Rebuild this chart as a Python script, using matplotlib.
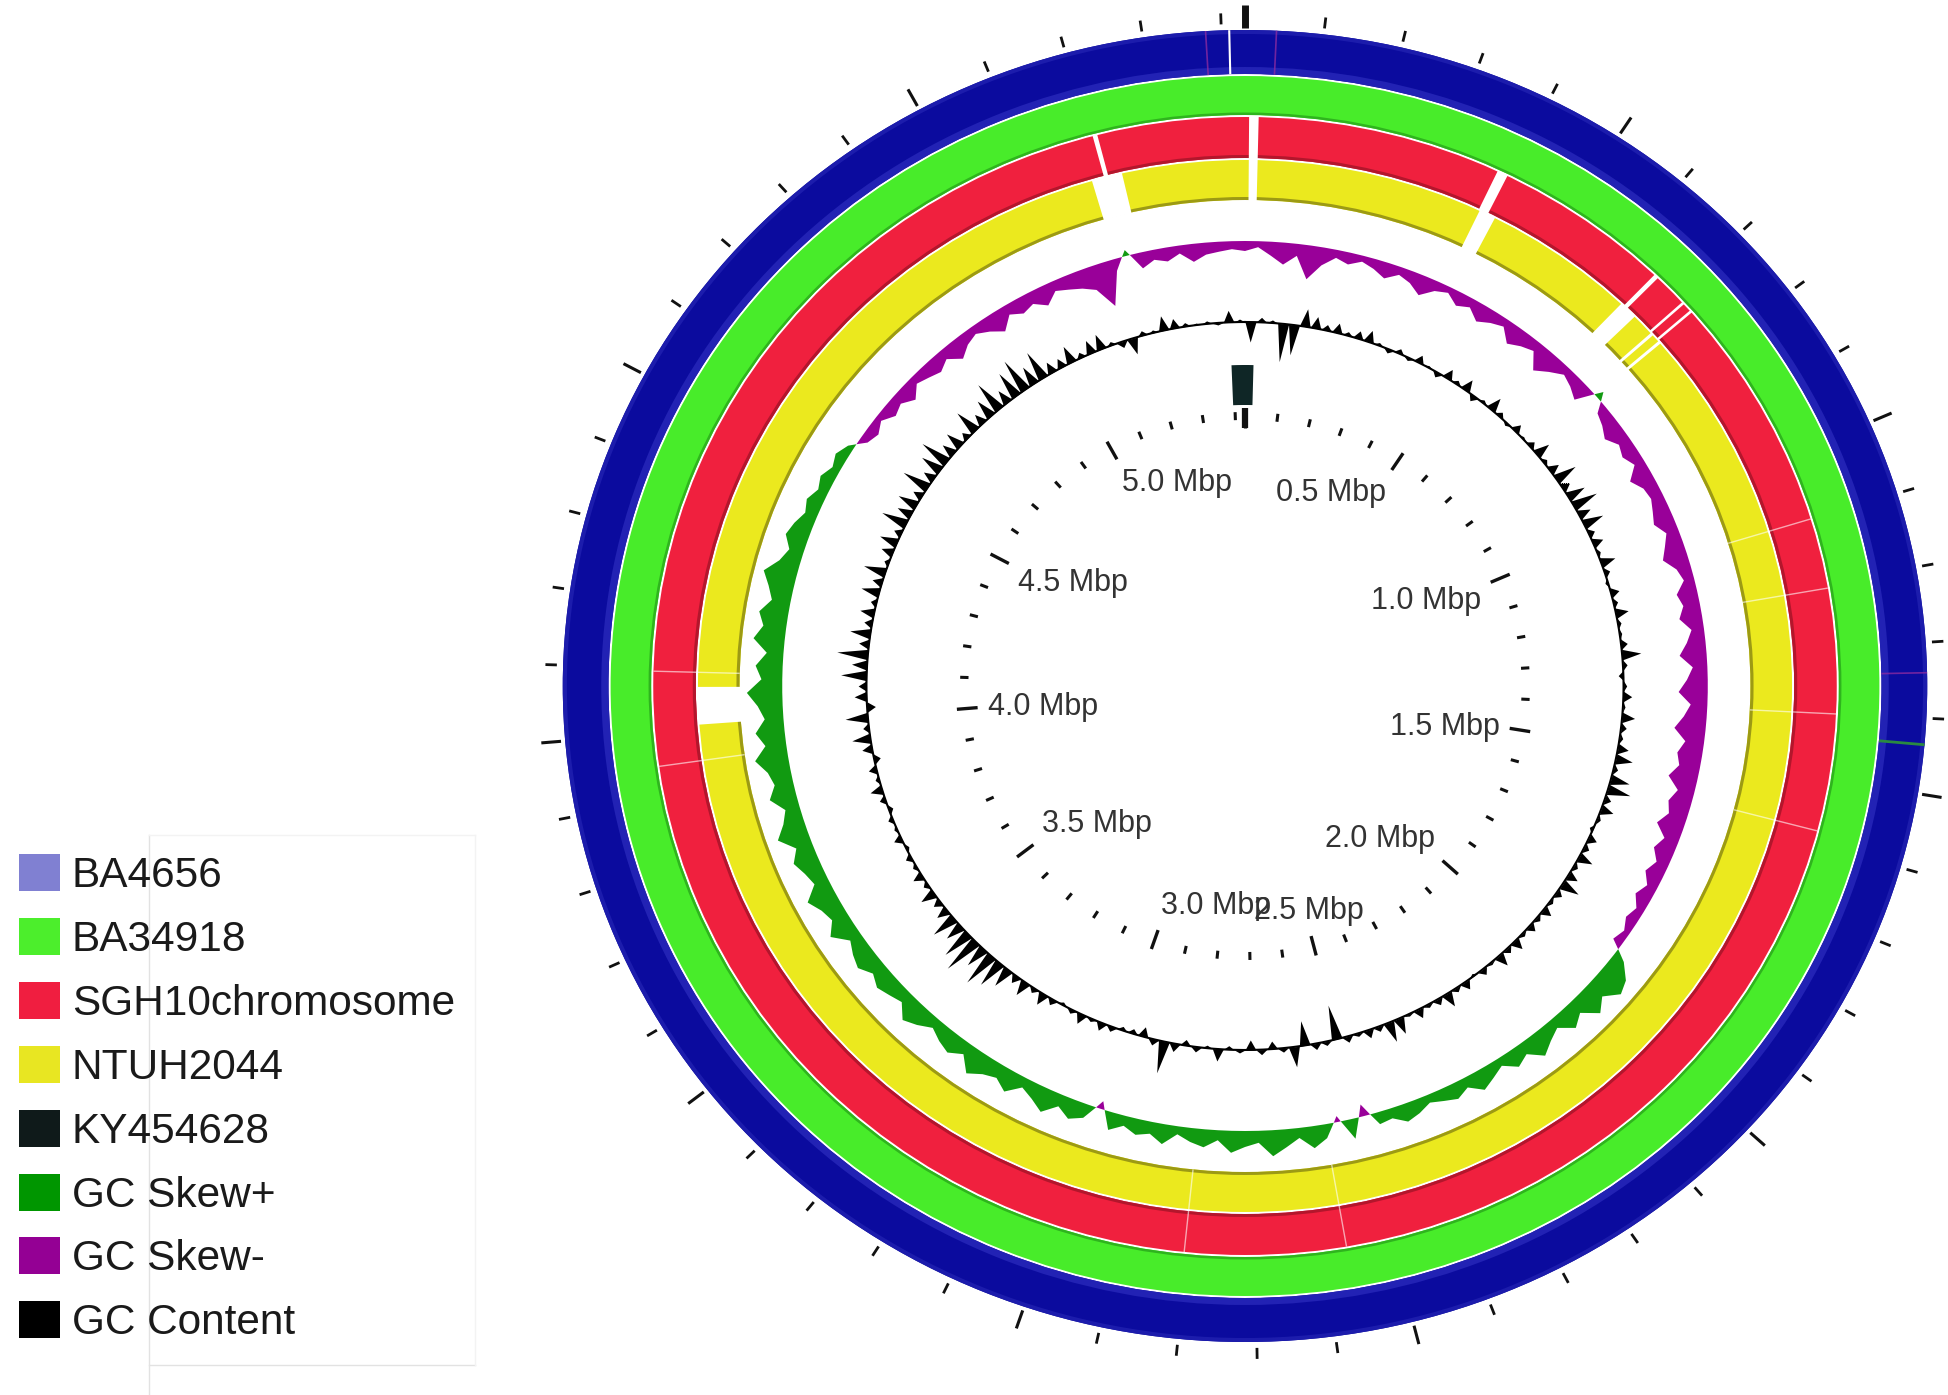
import numpy as np
import matplotlib.pyplot as plt
from matplotlib.patches import Patch

plt.rcParams['font.family'] = ['Liberation Sans', 'DejaVu Sans']

# reference genome length (Mbp)
genome_len = 5.43

legend_labels = ["BA4656", "BA34918", "SGH10chromosome", "NTUH2044",
                 "KY454628", "GC Skew+", "GC Skew-", "GC Content"]
legend_colors = ["#8080d2", "#4cee2c", "#f01e40", "#e8e622",
                 "#0f1a1a", "#009600", "#940094", "#000000"]

# regions without blast hits (Mbp start, end)
sgh10_gaps = [(0.006, 0.020), (0.381, 0.397), (0.660, 0.667), (0.718, 0.722),
              (0.735, 0.739), (5.205, 5.212)]
ntuh2044_gaps = [(0.006, 0.020), (0.383, 0.410), (0.655, 0.685), (0.722, 0.727),
                 (0.740, 0.745), (4.009, 4.071), (5.185, 5.234)]
# faint hit boundaries seen across the red / yellow rings
hit_boundaries = [1.10, 1.208, 1.40, 1.58, 2.566, 2.804, 3.95, 4.095]
# streaks in the BA4656 ring
ba4656_white = [5.41]
ba4656_purple = [0.04, 1.34, 5.38]
ba4656_green = [1.435]
# KY454628 hit (wraps over the origin)
ky454628_hit = (5.395, 0.022)

# GC content deviation per window (outward positive)
gc_content = [
    -20, 5, 3, -38, -30, 18, 12, 6, 10, 4, 8, 12, 3, -4, 5, -3, 8, 2, -5, 10,
    4, 12, -6, 3, 14, 5, -3, 8, 2, 6, 15, 4, 10, 22, 8, 18, 25, 12, 20, 6,
    10, 3, 14, 5, -3, 8, 4, 12, 3, 2, 6, 18, 4, -5, 3, 8, 2, 12, 5, 3,
    10, 16, 4, 18, 22, 6, 12, 3, -4, 8, 5, 14, 4, 10, 18, 6, 3, 9, 4, 7,
    3, 10, 5, 12, 2, 6, -3, 8, 4, 14, 6, 3, 9, 2, 16, 20, 5, 8, 3, 6,
    -35, 4, 6, -25, 20, 4, -8, 5, -10, 3, -4, 12, -3, 5, -6, 8, 32, 6, -10, -5,
    -4, 5, 8, 3, 10, 4, -3, 6, 12, 5, 15, 8, 20, 28, 35, 22, 38, 30, 18, 25,
    12, 8, 15, 5, 10, 4, 6, -3, 8, 3, 5, -4, 6, 12, 4, 8, -6, 10, 18, 6,
    22, -8, 12, 8, 25, 15, 30, 10, 20, 8, 14, 6, 18, 10, 22, 5, 12, 18, 8, 26,
    15, 20, 10, 28, 12, 22, 30, 14, 18, 8, 25, 12, 20, 32, 15, 28, 35, 20, 30, 12,
    10, 18, 6, 14, 16, 4, -6, -16, 5, 3, 15, 10, 4, 2, 3, -2, 12, 3]

# GC skew per window (positive = Skew+, negative = Skew-)
gc_skew = [
    -10, -6, -14, -22, -12, -34, -18, -8, -12, -6, -10, -16, -8, -12, -20, -10, -6, -14, -9, -18,
    -12, -8, -20, -14, -10, -25, -16, -8, -12, -18, 8, -10, -14, -20, -12, -16, -10, -22, -14, -12,
    -16, -20, -12, -18, -24, -14, -10, -20, -16, -22, -12, -18, -26, -14, -20, -28, -16, -22, -30, -18,
    -24, -20, -28, -16, -22, -18, -26, -14, -20, -12, -18, -10, -16, -8, -12, -6, -10, 12, 25, 30,
    18, 28, 14, 22, 10, 16, 24, 12, 18, 8, 14, 20, 10, 16, 12, 8, 14, 18, 10, 12,
    -12, 20, -6, 14, 22, 10, 18, 26, 12, 16, 22, 10, 18, 14, 8, 20, 12, 16, 10, 18,
    -8, 14, 20, 12, 24, 16, 10, 22, 14, 18, 26, 12, 20, 16, 10, 18, 24, 12, 16, 20,
    14, 22, 18, 12, 26, 16, 20, 28, 14, 18, 24, 16, 30, 20, 14, 26, 18, 22, 32, 20,
    28, 18, 24, 34, 20, 26, 16, 30, 22, 28, 18, 24, 32, 20, 14, 22, 18, 12, 16, 10,
    14, 8, 12, 6, -8, -12, -6, -14, -10, -18, -8, -12, -16, -10, -20, -12, -8, -14, -22, -10,
    -16, -12, -20, -10, -14, -18, -24, -45, -12, 6, -16, -10, -14, -8, -18, -12, -10, -8]


def to_theta(p):
    return np.asarray(p, dtype=float) / genome_len * 2 * np.pi


def ring(r0, r1, color, alpha=1.0):
    ax.bar(np.pi, r1 - r0, width=2 * np.pi, bottom=r0, color=color,
           linewidth=0, alpha=alpha)


def cut(spans, r0, r1, color="white"):
    for a, b in spans:
        if a > b:
            a -= genome_len
        t0, t1 = to_theta([a, b])
        ax.bar((t0 + t1) / 2, r1 - r0, width=t1 - t0, bottom=r0,
               color=color, linewidth=0)


fig = plt.figure(figsize=(19.49, 13.95), dpi=100)

# background axes in pixel units for the legend frame lines
bg = fig.add_axes([0, 0, 1, 1])
bg.set_xlim(0, 1949)
bg.set_ylim(1395, 0)
bg.axis("off")
bg.plot([149, 149], [835, 1395], color="#e2e2e2", lw=1)
bg.plot([149, 475], [1365, 1365], color="#e2e2e2", lw=1)
bg.plot([149, 475], [835, 835], color="#f3f3f3", lw=1)
bg.plot([475, 475], [835, 1365], color="#f3f3f3", lw=1)

# circular map: image is slightly stretched horizontally (x 1.04)
cx, cy, rmax, stretch = 1245, 686, 700, 1.04
w = 2 * rmax * stretch / 1949
h = 2 * rmax / 1395
ax = fig.add_axes([cx / 1949 - w / 2, 1 - cy / 1395 - h / 2, w, h],
                  projection="polar")
ax.set_aspect("auto")
ax.set_theta_zero_location("N")
ax.set_theta_direction(-1)
ax.set_ylim(0, rmax)
ax.set_axis_off()

# BA4656 (blue)
ring(612, 656, "#0b0b9e")
ring(612, 619, "#2222b4")
ring(652, 656, "#1c1cac")
ax.vlines(to_theta(ba4656_white), 612, 656, colors="white", lw=1.5)
ax.vlines(to_theta(ba4656_purple), 612, 656, colors="#8a2aa0", lw=1.2, alpha=0.8)
ax.vlines(to_theta(ba4656_green), 612, 656, colors="#2a8a40", lw=2)

# BA34918 (green)
ring(571, 610, "#48ec2a")
ring(571, 573.5, "#2fb41e")

# SGH10 chromosome (red)
ring(528, 569, "#f0203e")
ring(528, 531, "#b3162c")
cut(sgh10_gaps, 527, 570)

# NTUH2044 (yellow)
ring(486, 526, "#ebe91e")
ring(486, 489, "#9c9a14")
cut(ntuh2044_gaps, 485, 527)

ax.vlines(to_theta(hit_boundaries), 486, 569, colors="white", lw=1, alpha=0.6)

# windows evenly spread over the genome
n = len(gc_skew)
step = genome_len / n

# GC skew: continuous filled profile around its baseline
theta = to_theta(np.arange(n + 1) * step)
skew = np.array(gc_skew + gc_skew[:1], dtype=float)
base_skew = 445
ax.fill_between(theta, base_skew, base_skew + skew, where=skew >= 0,
                interpolate=True, color="#119a11", linewidth=0)
ax.fill_between(theta, base_skew, base_skew + skew, where=skew <= 0,
                interpolate=True, color="#990099", linewidth=0)

# GC content: one spike per window, back to the baseline between windows
base_gc = 364
t_gc = np.empty(2 * n + 1)
t_gc[0::2] = to_theta(np.arange(n + 1) * step)
t_gc[1::2] = to_theta((np.arange(n) + 0.5) * step)
r_gc = np.full(2 * n + 1, float(base_gc))
r_gc[1::2] += np.array(gc_content, dtype=float)
ax.fill_between(t_gc, base_gc, r_gc, color="black", linewidth=0)
ax.plot(np.linspace(0, 2 * np.pi, 720), np.full(720, base_gc), color="black", lw=1.5)

# KY454628
cut([ky454628_hit], 281, 321, color="#0f2626")

# tick rings
pos = np.round(np.arange(0, genome_len, 0.1), 1)
major = np.isclose(pos % 0.5, 0) | np.isclose(pos % 0.5, 0.5)
ax.vlines(to_theta(pos[~major]), 266, 274, colors="#111111", lw=2.2)
ax.vlines(to_theta(pos[major]), 258, 278, colors="#111111", lw=2.4)
ax.vlines(to_theta(pos[~major]), 662, 673, colors="#111111", lw=2.0)
ax.vlines(to_theta(pos[major]), 660, 679, colors="#111111", lw=2.2)
ax.vlines([0], 258, 278, colors="#111111", lw=4.5)
ax.vlines([0], 658, 681, colors="#111111", lw=5)

for p in pos[major][1:]:
    t = float(to_theta(p))
    s, c = np.sin(t), np.cos(t)
    ha = "left" if s < -0.3 else ("right" if s > 0.3 else "center")
    va = "top" if c > 0.3 else ("bottom" if c < -0.3 else "center")
    ax.text(t, 248, f"{p:.1f} Mbp", ha=ha, va=va, fontsize=22, color="#333333")

handles = [Patch(facecolor=col, edgecolor="none") for col in legend_colors]
fig.legend(handles, legend_labels, loc="upper left",
           bbox_to_anchor=(19 / 1949, 1 - 854 / 1395), frameon=False,
           fontsize=30.5, handlelength=0.97, handleheight=0.97,
           handletextpad=0.28, labelspacing=0.515, borderpad=0,
           borderaxespad=0, labelcolor="#1a1a1a")

fig.savefig("out.png", dpi=100)
